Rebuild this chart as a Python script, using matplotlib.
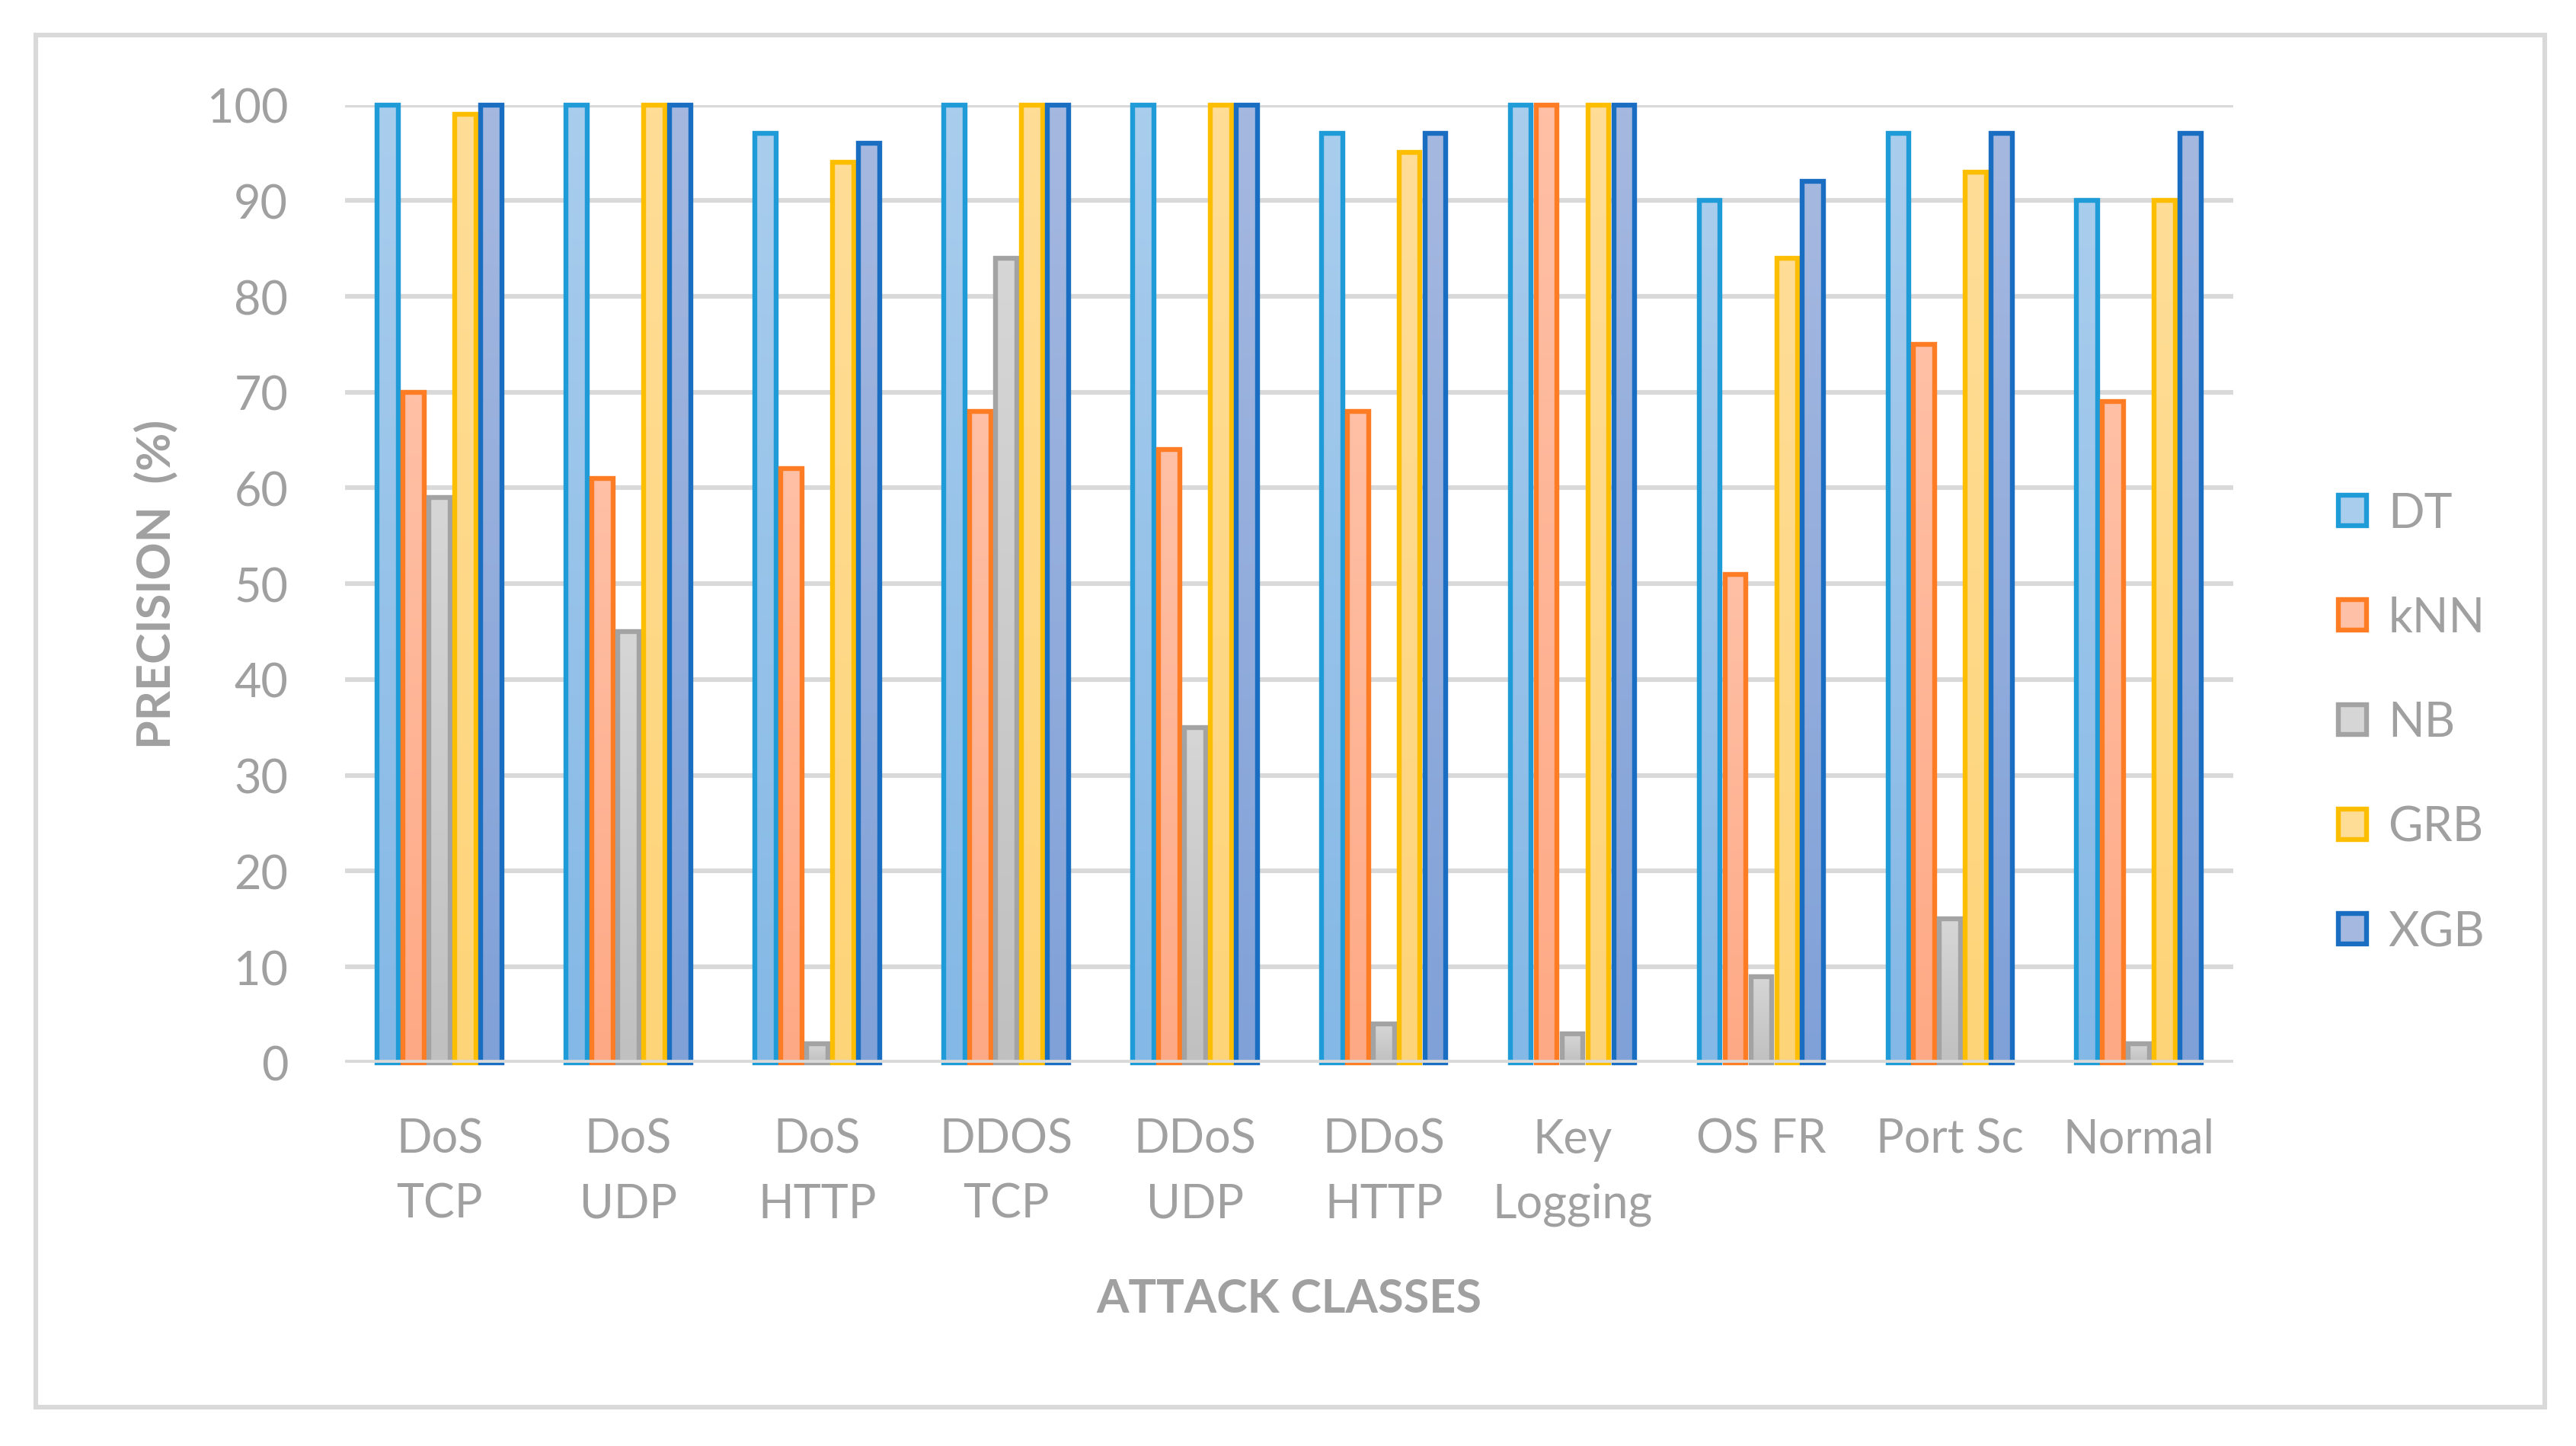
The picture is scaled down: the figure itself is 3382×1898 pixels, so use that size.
import matplotlib.pyplot as plt
import numpy as np
from matplotlib.patches import Patch, Rectangle
from matplotlib.colors import to_rgb

plt.rcParams['font.family'] = ['Lato', 'DejaVu Sans']

classes = ["DoS\nTCP", "DoS\nUDP", "DoS\nHTTP", "DDOS\nTCP", "DDoS\nUDP",
           "DDoS\nHTTP", "Key\nLogging", "OS FR", "Port Sc", "Normal"]
models = ["DT", "kNN", "NB", "GRB", "XGB"]
dt = [100, 100, 97, 100, 100, 97, 100, 90, 97, 90]
knn = [70, 61, 62, 68, 64, 68, 100, 51, 75, 69]
nb = [59, 45, 2, 84, 35, 4, 3, 9, 15, 2]
grb = [99, 100, 94, 100, 100, 95, 100, 84, 93, 90]
xgb = [100, 100, 96, 100, 100, 97, 100, 92, 97, 97]
series = [dt, knn, nb, grb, xgb]

edge_cols = ["#1F9BD7", "#FD7C24", "#A3A3A3", "#FEBE00", "#1A6EC2"]
top_cols = ["#A9CDED", "#FEC0A6", "#D6D6D6", "#FEDD97", "#A5B8E0"]
bot_cols = ["#84B8E6", "#FEA985", "#C0C0C0", "#FED478", "#80A1D8"]
txt = "#A0A0A0"
grid = "#D9D9D9"

fig = plt.figure(figsize=(16.91, 9.495), dpi=200)
ax = fig.add_axes([0.134, 0.265, 0.733, 0.662])

x = np.arange(len(classes))
step = 0.137
lw = 2.3
w = step - 0.025
t = np.linspace(0, 1, 64)[:, None]

for i, vals in enumerate(series):
    off = (i - 2) * step
    ax.bar(x + off, vals, width=w, facecolor='none', edgecolor=edge_cols[i],
           linewidth=lw, zorder=3, clip_on=False)
    c0 = np.array(to_rgb(top_cols[i]))
    c1 = np.array(to_rgb(bot_cols[i]))
    grad = (c0 * (1 - t) + c1 * t)[:, None, :]
    for xi, v in zip(x, vals):
        ax.imshow(grad, extent=(xi + off - w / 2, xi + off + w / 2, 0, v),
                  aspect='auto', interpolation='bilinear', zorder=2)

ax.set_xlim(-0.5, 9.5)
ax.set_ylim(0, 100)
ax.set_yticks(range(0, 101, 10))
ax.set_xticks(x)
ax.set_xticklabels(classes)
for lab in ax.get_xticklabels():
    lab.set_linespacing(1.6)
ax.tick_params(length=0, labelsize=22, labelcolor=txt)
ax.tick_params(axis='x', pad=26)
ax.tick_params(axis='y', pad=27)
for s in ax.spines.values():
    s.set_visible(False)
ax.yaxis.grid(True, color=grid, linewidth=2.2, zorder=0)
ax.set_axisbelow(True)
ax.axhline(0, color=grid, linewidth=2.8, zorder=4)

ax.set_ylabel("PRECISION  (%)", fontsize=22, fontweight='bold', color=txt, labelpad=14)
ax.set_xlabel("ATTACK CLASSES", fontsize=22, fontweight='bold', color=txt, labelpad=24)

handles = [Patch(facecolor=top_cols[i], edgecolor=edge_cols[i], linewidth=lw)
           for i in range(5)]
fig.legend(handles, models, loc='center left', bbox_to_anchor=(0.891, 0.5),
           frameon=False, fontsize=22.5, labelcolor=txt, handlelength=0.6,
           handleheight=0.6, handletextpad=0.45, labelspacing=1.27)

fig.add_artist(Rectangle((0.014, 0.027), 0.974, 0.948, transform=fig.transFigure,
                         fill=False, edgecolor=grid, linewidth=2.2))

fig.savefig("out.png", dpi=200)
